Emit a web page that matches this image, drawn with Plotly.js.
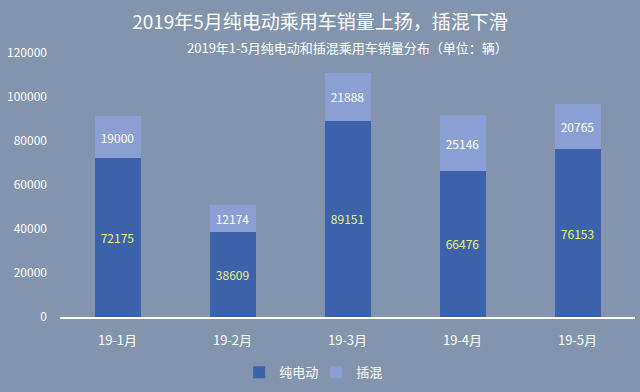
<!DOCTYPE html>
<html><head><meta charset="utf-8">
<script src="https://cdn.plot.ly/plotly-3.0.1.min.js"></script>
<style>html,body{margin:0;padding:0;background:#8294ae;}#c{width:640px;height:392px;}</style>
</head><body><div id="c"></div>
<script>
const categories = ['19-1月','19-2月','19-3月','19-4月','19-5月'];
const bev = [72175, 38609, 89151, 66476, 76153];
const phev = [19000, 12174, 21888, 25146, 20765];
const tickVals = [0,20000,40000,60000,80000,100000,120000];

const font = "'Noto Sans CJK SC', 'Microsoft YaHei', sans-serif";
const data = [
  {type:'bar', name:'纯电动', x:categories, y:bev, text:bev.map(String), textposition:'inside', insidetextanchor:'middle',
   textfont:{color:'#e8f27a', size:12, family:font}, marker:{color:'#3d62ac'}, width:0.4, hoverinfo:'none'},
  {type:'bar', name:'插混', x:categories, y:phev, text:phev.map(String), textposition:'inside', insidetextanchor:'middle',
   textfont:{color:'#ffffff', size:12, family:font}, marker:{color:'#8c9fd4'}, width:0.4, hoverinfo:'none'}
];
const layout = {
  width:640, height:392, barmode:'stack',
  paper_bgcolor:'#8294ae', plot_bgcolor:'#8294ae',
  margin:{l:60, r:5, t:53, b:75},
  font:{family:font, color:'#ffffff', size:12},
  title:{text:'2019年5月纯电动乘用车销量上扬，插混下滑', font:{size:19, color:'#ffffff', family:font}, x:0.5, xanchor:'center', yref:'container', y:0.942, yanchor:'middle'},
  annotations:[{text:'2019年1-5月纯电动和插混乘用车销量分布（单位：辆）', xref:'paper', yref:'paper', x:0.5, y:1.02, xanchor:'center', yanchor:'middle', showarrow:false, font:{size:13, color:'#ffffff', family:font}}],
  xaxis:{type:'category', showgrid:false, showline:true, linecolor:'#ffffff', linewidth:1.5, tickfont:{size:13, color:'#ffffff'}, ticks:'', ticklabelstandoff:11},
  yaxis:{range:[0,120000], tickvals:tickVals, ticktext:tickVals.map(String), showgrid:false, zeroline:false, showline:false, tickfont:{size:12, color:'#ffffff'}, ticklabelstandoff:12},
  showlegend:true,
  legend:{orientation:'h', x:0.494, xanchor:'center', xref:'container', yref:'container', y:0.05, yanchor:'middle', font:{size:13, color:'#ffffff'}, itemwidth:30, entrywidth:32, traceorder:'normal'},
  bargap:0.6
};
Plotly.newPlot('c', data, layout, {staticPlot:true});
</script></body></html>
